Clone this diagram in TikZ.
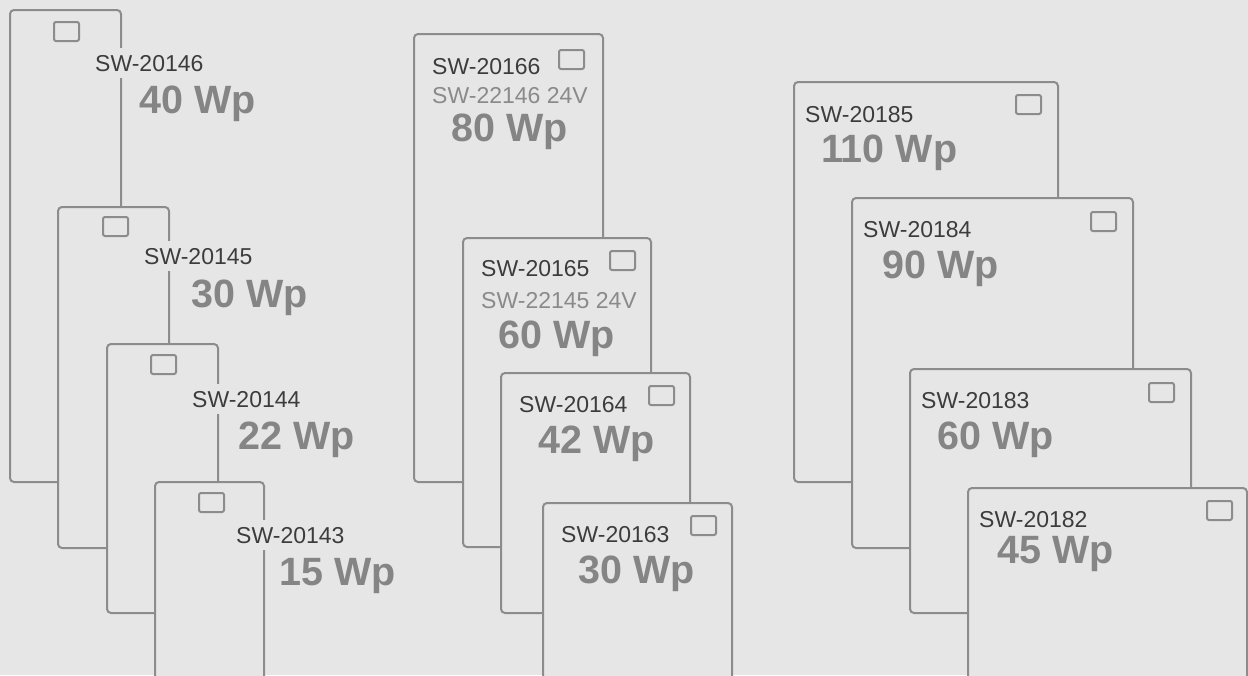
\documentclass[tikz,border=0pt]{standalone}
\usepackage{fontspec}
\setmainfont{Liberation Sans}
\definecolor{bg}{HTML}{E6E6E6}
\definecolor{edge}{HTML}{8C8C8C}
\definecolor{dark}{HTML}{3C3C3C}
\definecolor{mid}{HTML}{8A8A8A}
\definecolor{watt}{HTML}{858585}
\tikzset{
  panel/.style={draw=edge, fill=bg, line width=2pt, rounded corners=4pt},
  icon/.style={draw=edge, line width=2pt, rounded corners=2pt, minimum width=25pt, minimum height=19pt, inner sep=0pt, anchor=north west},
  code/.style={fill=bg, text=dark, font=\fontsize{23}{26}\selectfont, inner xsep=0pt, inner ysep=6.5pt, anchor=base west},
  alt/.style={fill=bg, text=mid, font=\fontsize{23}{26}\selectfont, inner xsep=0pt, inner ysep=4pt, anchor=base west},
  power/.style={fill=bg, text=watt, font=\fontsize{39.5}{44}\selectfont\bfseries, inner xsep=0pt, inner ysep=3pt, anchor=base west}
}
\begin{document}
\begin{tikzpicture}[x=1pt,y=-1pt]
\clip (0,0) rectangle (1248,675);
\fill[bg] (0,0) rectangle (1248,675);
% column 1
\path[panel] (10,10) rectangle (121,482);
\node[icon] (i1) at (53,21) {};
\node[code] (c1) at (95,71) {SW-20146};
\node[power] (w1) at (139,113) {40 Wp};
\path[panel] (58,207) rectangle (169,548);
\node[icon] (i2) at (102,216) {};
\node[code] (c2) at (144,264) {SW-20145};
\node[power] (w2) at (191,307) {30 Wp};
\path[panel] (107,344) rectangle (218,613);
\node[icon] (i3) at (150,354) {};
\node[code] (c3) at (192,407) {SW-20144};
\node[power] (w3) at (238,449) {22 Wp};
\path[panel] (155,482) rectangle (264,700);
\node[icon] (i4) at (198,492) {};
\node[code] (c4) at (236,543) {SW-20143};
\node[power] (w4) at (279,585) {15 Wp};
% column 2
\path[panel] (414,34) rectangle (603,482);
\node[icon] (i5) at (558,49) {};
\node[code] (c5) at (432,74) {SW-20166};
\node[alt] (a5) at (432,103) {SW-22146 24V};
\node[power] (w5) at (451,141) {80 Wp};
\path[panel] (463,238) rectangle (651,547);
\node[icon] (i6) at (609,250) {};
\node[code] (c6) at (481,276) {SW-20165};
\node[alt] (a6) at (481,308) {SW-22145 24V};
\node[power] (w6) at (498,348) {60 Wp};
\path[panel] (501,373) rectangle (690,613);
\node[icon] (i7) at (648,385) {};
\node[code] (c7) at (519,412) {SW-20164};
\node[power] (w7) at (538,453) {42 Wp};
\path[panel] (543,503) rectangle (732,700);
\node[icon] (i8) at (690,515) {};
\node[code] (c8) at (561,542) {SW-20163};
\node[power] (w8) at (578,583) {30 Wp};
% column 3
\path[panel] (794,82) rectangle (1058,482);
\node[icon] (i9) at (1015,94) {};
\node[code] (c9) at (805,122) {SW-20185};
\node[power] (w9) at (821,162) {110 Wp};
\path[panel] (852,198) rectangle (1133,548);
\node[icon] (i10) at (1090,211) {};
\node[code] (c10) at (863,237) {SW-20184};
\node[power] (w10) at (882,278) {90 Wp};
\path[panel] (910,369) rectangle (1191,613);
\node[icon] (i11) at (1148,382) {};
\node[code] (c11) at (921,408) {SW-20183};
\node[power] (w11) at (937,449) {60 Wp};
\path[panel] (968,488) rectangle (1247,700);
\node[icon] (i12) at (1206,500) {};
\node[code] (c12) at (979,527) {SW-20182};
\node[power] (w12) at (997,563) {45 Wp};
\end{tikzpicture}
\end{document}
